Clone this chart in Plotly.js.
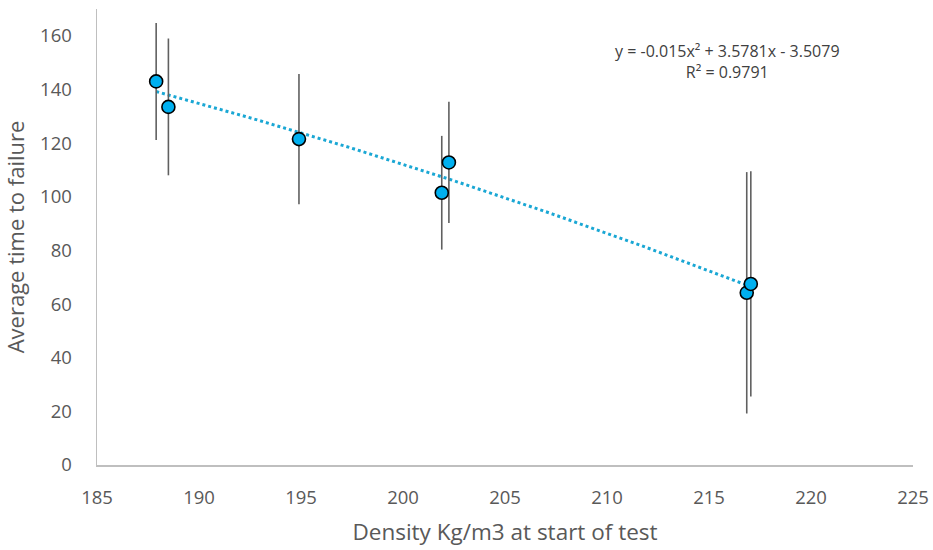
<!DOCTYPE html>
<html>
<head>
<meta charset="utf-8">
<script src="https://cdn.plot.ly/plotly-3.0.1.min.js"></script>
<style>html,body{margin:0;padding:0;background:#fff;}#chart{width:933px;height:550px;}</style>
</head>
<body>
<div id="chart"></div>
<script>
// Data
const density = [187.9, 188.5, 194.9, 201.9, 202.25, 216.85, 217.05];
const avgTime = [143.0, 133.5, 121.5, 101.5, 112.8, 64.2, 67.5];
const errPlusMinus = [21.8, 25.5, 24.3, 21.2, 22.6, 45.0, 42.0];
// Trendline coefficients shown on the chart: y = a x^2 + b x + c
const trendCoef = [-0.015, 3.5781, -3.5079];
const trendLabel = 'y = -0.015x² + 3.5781x - 3.5079<br>R² = 0.9791';
const xTicks = [185, 190, 195, 200, 205, 210, 215, 220, 225];
const yTicks = [0, 20, 40, 60, 80, 100, 120, 140, 160];

const xMin = Math.min(...density), xMax = Math.max(...density);
const tx = [], ty = [];
for (let i = 0; i <= 60; i++) {
  const x = xMin + (xMax - xMin) * i / 60;
  tx.push(x);
  ty.push(trendCoef[0] * x * x + trendCoef[1] * x + trendCoef[2]);
}

const font = "'Open Sans', 'Liberation Sans', sans-serif";
const traces = [
  {
    x: tx, y: ty, mode: 'lines', type: 'scatter', hoverinfo: 'skip',
    line: {color: '#1aa7d4', width: 3, dash: 'dot'}
  },
  {
    x: density, y: avgTime, mode: 'markers', type: 'scatter',
    marker: {size: 13, color: '#00b0f0', line: {color: '#000', width: 1.6}},
    error_y: {type: 'data', array: errPlusMinus, visible: true, color: '#606060', thickness: 1.6, width: 0}
  }
];

const layout = {
  width: 933, height: 550,
  margin: {l: 97, r: 20, t: 9, b: 85},
  paper_bgcolor: '#fff', plot_bgcolor: '#fff',
  showlegend: false,
  font: {family: font, color: '#595959'},
  xaxis: {
    range: [185, 225], tickvals: xTicks, ticktext: xTicks.map(String),
    showgrid: false, zeroline: false, showline: true, linecolor: '#bfbfbf', linewidth: 1.5,
    ticks: 'outside', ticklen: 15, tickcolor: 'rgba(0,0,0,0)',
    tickfont: {size: 18.5, color: '#595959', family: font},
    title: {text: 'Density Kg/m3 at start of test', font: {size: 22.5, color: '#595959', family: font}, standoff: 16}
  },
  yaxis: {
    range: [0, 170], tickvals: yTicks, ticktext: yTicks.map(String),
    showgrid: false, zeroline: false, showline: true, linecolor: '#bfbfbf', linewidth: 1.5,
    ticks: 'outside', ticklen: 20, tickcolor: 'rgba(0,0,0,0)',
    tickfont: {size: 18.5, color: '#595959', family: font},
    title: {text: 'Average time to failure', font: {size: 22, color: '#595959', family: font}, standoff: 10}
  },
  annotations: [{
    text: trendLabel, xref: 'paper', yref: 'paper', x: 0.773, y: 0.884,
    xanchor: 'center', yanchor: 'middle', showarrow: false, align: 'center',
    font: {size: 16, color: '#404040', family: font}
  }]
};

Plotly.newPlot('chart', traces, layout, {displayModeBar: false, staticPlot: true});
</script>
</body>
</html>
